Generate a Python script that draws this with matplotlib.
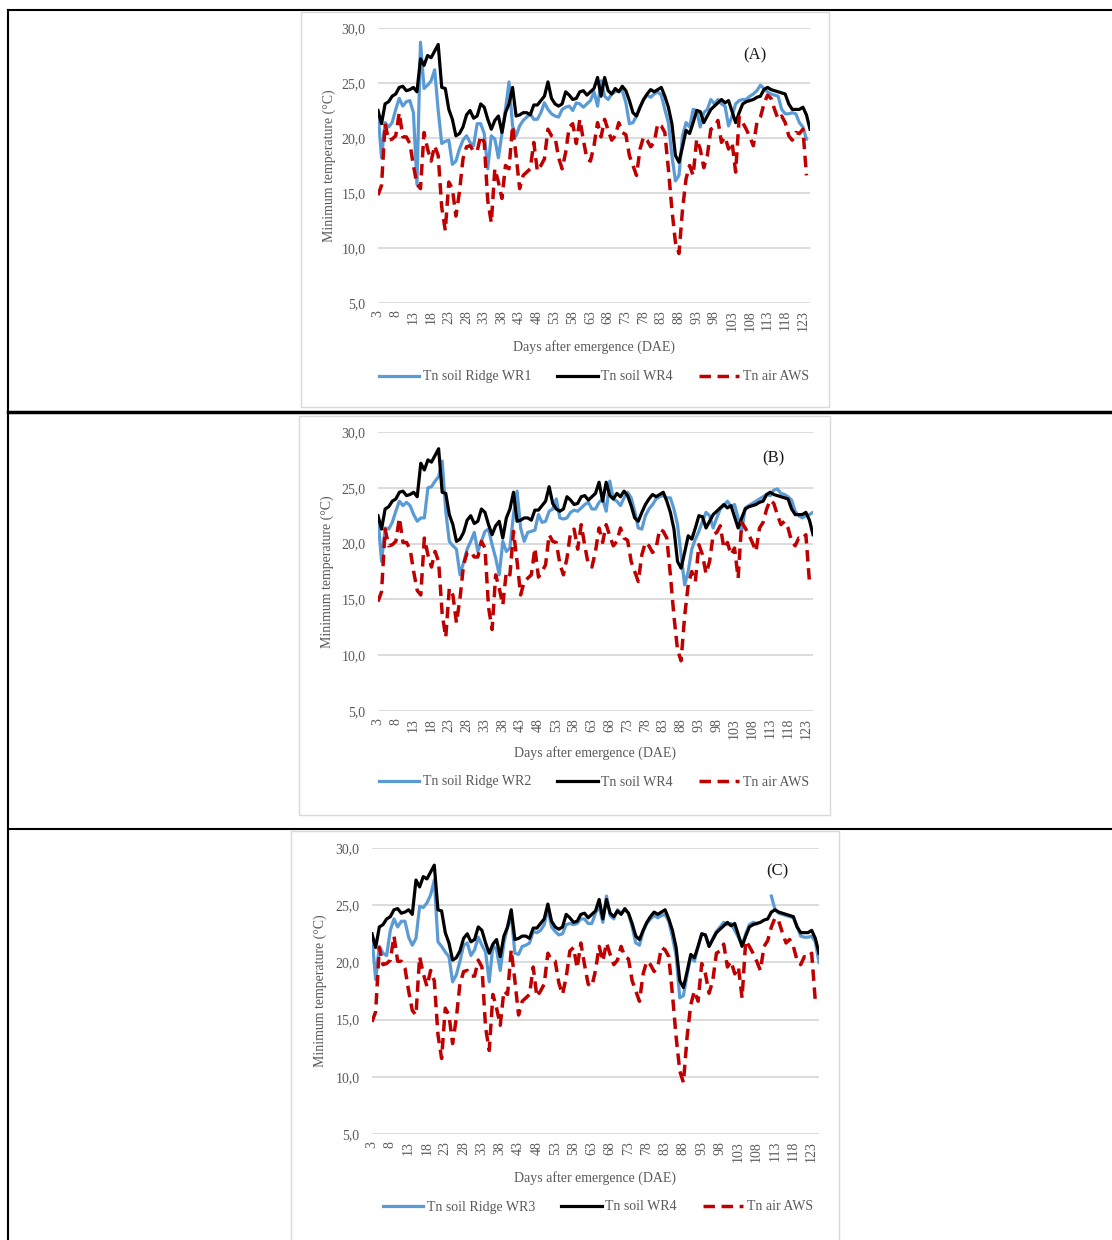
import numpy as np
import matplotlib.pyplot as plt
from matplotlib.lines import Line2D
from matplotlib.patches import Rectangle

# Days after emergence (3 .. 125)
days = np.arange(3, 126)
tick_days = np.arange(3, 124, 5)
y_ticks = [5, 10, 15, 20, 25, 30]
y_tick_labels = ['5,0', '10,0', '15,0', '20,0', '25,0', '30,0']

# Tn soil WR4 (same in every panel)
wr4 = [22.5, 21.3, 23.1, 23.3, 23.8, 24.0, 24.6, 24.7, 24.3, 24.4,
       24.6, 24.2, 27.2, 26.6, 27.5, 27.3, 27.9, 28.5, 24.6, 24.5,
       22.6, 21.7, 20.2, 20.4, 21.0, 22.1, 22.5, 21.8, 22.0, 23.1,
       22.8, 21.7, 20.8, 21.6, 22.0, 20.5, 22.3, 23.1, 24.6, 22.0,
       22.1, 22.3, 22.3, 22.1, 23.0, 23.0, 23.4, 23.8, 25.1, 23.6,
       23.1, 22.9, 23.1, 24.2, 23.9, 23.5, 23.6, 24.2, 24.3, 23.9,
       24.2, 24.5, 25.5, 23.8, 25.5, 24.3, 24.0, 24.5, 24.2, 24.7,
       24.3, 23.4, 22.3, 22.0, 22.8, 23.5, 24.0, 24.4, 24.2, 24.4,
       24.6, 23.8, 22.8, 21.3, 18.4, 17.8, 19.2, 20.7, 20.4, 21.4,
       22.5, 22.4, 21.4, 22.0, 22.6, 22.9, 23.2, 23.5, 23.2, 23.4,
       22.4, 21.4, 22.3, 23.1, 23.3, 23.4, 23.5, 23.7, 23.8, 24.4,
       24.6, 24.4, 24.3, 24.2, 24.1, 24.0, 23.1, 22.6, 22.6, 22.6,
       22.8, 22.1, 20.8]

# Tn air AWS (same in every panel)
aws = [14.8, 15.7, 21.3, 19.8, 19.9, 20.2, 22.3, 20.1, 20.1, 19.5,
       17.5, 15.8, 15.4, 20.5, 19.0, 17.9, 19.3, 18.4, 13.7, 11.6,
       16.0, 15.4, 12.9, 15.1, 18.1, 19.2, 19.3, 18.8, 18.8, 20.2,
       19.6, 14.3, 12.3, 17.2, 16.0, 14.5, 17.5, 17.2, 21.1, 18.4,
       15.4, 16.6, 16.9, 17.2, 19.6, 17.0, 17.5, 18.1, 20.8, 20.2,
       20.1, 18.2, 17.2, 18.7, 21.0, 21.3, 19.5, 21.7, 19.8, 18.1,
       17.9, 19.3, 21.4, 20.1, 21.7, 20.7, 19.8, 20.2, 21.4, 20.5,
       20.3, 18.4, 17.5, 16.6, 19.0, 20.1, 19.8, 19.2, 19.6, 21.3,
       21.1, 20.5, 17.2, 13.5, 10.5, 9.5, 13.5, 16.3, 17.5, 16.6,
       19.9, 19.0, 17.3, 18.4, 20.8, 21.0, 21.6, 19.6, 20.1, 19.0,
       19.6, 16.9, 21.9, 21.4, 20.8, 20.1, 19.3, 21.4, 21.9, 23.1,
       23.9, 23.6, 22.6, 21.7, 22.0, 21.4, 20.2, 19.8, 20.5, 20.4,
       20.8, 16.6, np.nan]

# Tn soil Ridge WR1 / WR2 / WR3
wr1 = [22.3, 18.2, 21.4, 21.0, 21.4, 22.6, 23.6, 22.9, 23.3, 23.4,
       22.3, 15.8, 28.7, 24.5, 24.8, 25.2, 26.2, 22.5, 19.5, 19.7,
       19.8, 17.6, 17.9, 19.0, 19.8, 20.2, 19.6, 19.3, 21.3, 21.3,
       20.4, 17.2, 20.2, 19.9, 18.2, 20.4, 22.6, 25.1, 21.1, 20.2,
       21.1, 21.6, 21.9, 22.2, 21.7, 21.7, 22.3, 23.2, 22.6, 22.2,
       22.0, 21.9, 22.6, 22.8, 22.9, 22.5, 23.2, 23.1, 22.8, 23.1,
       23.4, 24.2, 22.9, 25.2, 23.8, 23.5, 24.0, 24.2, 24.3, 24.3,
       23.2, 21.3, 21.4, 22.0, 22.8, 23.5, 23.9, 23.7, 24.0, 24.2,
       23.9, 22.6, 21.4, 18.4, 16.1, 16.6, 20.2, 21.4, 21.0, 22.6,
       22.5, 21.0, 22.3, 22.6, 23.5, 23.1, 23.5, 23.1, 22.9, 21.1,
       22.0, 23.1, 23.4, 23.5, 23.5, 23.8, 24.0, 24.3, 24.8, 24.5,
       24.2, 24.0, 23.9, 23.8, 22.6, 22.2, 22.2, 22.3, 22.2, 21.4,
       21.0, 19.9, np.nan]

wr2 = [22.3, 18.4, 21.4, 21.3, 21.9, 22.9, 23.8, 23.4, 23.7, 23.4,
       22.6, 22.0, 22.3, 22.3, 25.0, 25.1, 25.6, 26.0, 27.4, 22.9,
       20.2, 19.8, 19.5, 17.2, 18.3, 19.5, 20.2, 21.0, 19.3, 20.2,
       21.1, 21.3, 19.9, 18.7, 17.2, 20.2, 19.3, 19.6, 22.6, 24.7,
       21.4, 20.2, 21.0, 21.1, 21.2, 22.6, 21.9, 22.0, 22.9, 23.1,
       24.0, 22.3, 22.2, 22.3, 22.8, 23.0, 22.9, 23.2, 23.5, 23.7,
       23.1, 23.1, 23.7, 24.0, 22.9, 25.6, 24.0, 23.8, 23.4, 24.1,
       24.6, 24.1, 22.9, 21.4, 21.3, 22.5, 23.1, 23.5, 24.0, 24.2,
       24.3, 24.1, 24.1, 23.1, 21.7, 19.0, 16.3, 17.5, 19.5, 20.4,
       21.1, 22.0, 22.8, 22.5, 21.4, 22.3, 23.1, 23.4, 23.8, 23.3,
       23.5, 22.3, 21.1, 23.2, 23.4, 23.6, 23.8, 24.0, 24.2, 24.4,
       24.3, 24.8, 24.9, 24.5, 24.4, 24.2, 23.9, 22.9, 22.5, 22.3,
       22.5, 22.6, 22.8]

wr3 = [22.2, 18.5, 21.4, 20.8, 20.6, 22.8, 23.8, 23.1, 23.6, 23.6,
       22.2, 21.5, 22.1, 24.9, 24.8, 25.2, 25.9, 27.2, 21.8, 21.4,
       20.9, 20.5, 18.3, 18.9, 20.1, 21.5, 21.7, 20.6, 21.1, 22.2,
       21.5, 20.9, 18.3, 21.5, 21.1, 19.3, 21.7, 23.1, 24.1, 20.8,
       20.7, 21.4, 21.5, 21.7, 22.7, 22.6, 22.8, 23.3, 24.7, 23.1,
       22.7, 22.4, 22.5, 23.3, 23.4, 23.3, 23.4, 23.8, 23.8, 23.4,
       23.4, 24.3, 24.9, 23.5, 25.8, 24.1, 23.8, 24.6, 24.3, 24.6,
       24.3, 23.1, 21.7, 21.5, 22.7, 23.4, 23.8, 24.1, 23.9, 24.1,
       24.2, 23.6, 22.2, 20.6, 16.9, 17.1, 18.9, 20.5, 20.1, 21.4,
       22.5, 22.4, 21.4, 22.1, 22.7, 23.1, 23.5, 23.3, 23.4, 22.8,
       22.2, 21.5, 22.5, 23.3, 23.5, 23.4, np.nan, np.nan, np.nan, 25.8,
       24.6, 24.3, 24.2, 24.1, 24.0, 23.9, 23.2, 22.3, 22.2, 22.2,
       22.3, 21.8, 20.0]

blue_series = [wr1, wr2, wr3]
blue_labels = ['Tn soil Ridge WR1', 'Tn soil Ridge WR2', 'Tn soil Ridge WR3']
tags = ['(A)', '(B)', '(C)']

# layout in pixels: plot area (l, t, r, b), chart frame, ylabel x, xlabel y, legend y, tag xy
panels = [
    dict(plot=(378, 28, 810, 303), frame=(301, 12, 829, 407), ylab=329, xlab=347, leg=(594, 377), tag=(755, 55)),
    dict(plot=(378, 432, 813, 711), frame=(299, 416, 830, 815), ylab=327, xlab=753, leg=(594, 782), tag=(773, 458)),
    dict(plot=(372, 848, 819, 1134), frame=(291, 831, 839, 1245), ylab=320, xlab=1178, leg=(598, 1207), tag=(777, 871)),
]

W, H = 1112, 1240
plt.rcParams['font.family'] = ['Liberation Serif', 'DejaVu Serif']
txt = '#595959'

fig = plt.figure(figsize=(W / 100, H / 100), dpi=100)
fig.patch.set_facecolor('white')


def fx(x):
    return x / W


def fy(y):
    return 1 - y / H


for p, blue, blab, tag in zip(panels, blue_series, blue_labels, tags):
    fl, ft, fr, fb = p['frame']
    fig.add_artist(Rectangle((fx(fl), fy(fb)), fx(fr - fl), (fb - ft) / H,
                             transform=fig.transFigure, fill=False,
                             edgecolor='#d9d9d9', lw=1.0))
    l, t, r, b = p['plot']
    ax = fig.add_axes([fx(l), fy(b), fx(r - l), (b - t) / H])
    h1, = ax.plot(days, blue, color='#5B9BD5', lw=2.3, label=blab)
    h2, = ax.plot(days, wr4, color='black', lw=2.3, label='Tn soil WR4')
    h3, = ax.plot(days, aws, color='#C00000', lw=2.5, ls=(0, (3.3, 1.9)), label='Tn air AWS')

    ax.set_xlim(3, 125)
    ax.set_ylim(5, 30)
    ax.set_yticks(y_ticks)
    ax.set_yticklabels(y_tick_labels)
    ax.set_xticks(tick_days)
    ax.set_xticklabels([str(d) for d in tick_days], rotation=90)
    ax.tick_params(length=0, labelsize=10, labelcolor=txt)
    ax.tick_params(axis='y', pad=9)
    ax.tick_params(axis='x', pad=5)
    ax.grid(axis='y', color='#d9d9d9', lw=1.3)
    ax.set_axisbelow(True)
    for s in ax.spines.values():
        s.set_visible(False)

    ax.set_ylabel('Minimum temperature (°C)', fontsize=10, color=txt)
    ax.yaxis.set_label_coords((p['ylab'] - l) / (r - l), 0.5)
    ax.yaxis.label.set_va('center')
    ax.set_xlabel('Days after emergence (DAE)', fontsize=10, color=txt)
    ax.xaxis.set_label_coords(0.5, (b - p['xlab']) / (b - t))
    ax.xaxis.label.set_va('center')

    fig.text(fx(p['tag'][0]), fy(p['tag'][1]), tag, fontsize=12,
             color='#1a1a1a', ha='center', va='center')

    fig.legend([h1, h2, h3], [blab, 'Tn soil WR4', 'Tn air AWS'],
               loc='center', bbox_to_anchor=(fx(p['leg'][0]), fy(p['leg'][1])),
               ncol=3, frameon=False, fontsize=10, labelcolor=txt,
               handlelength=2.9, handletextpad=0.25, columnspacing=1.9)

# table borders around the three panels
for x0, y0, x1, y1, w in [(8, 10, 1112, 10, 1.5), (8, 10, 8, 1240, 1.5),
                          (8, 412, 1112, 412, 2.5), (8, 829, 1112, 829, 1.5)]:
    fig.add_artist(Line2D([fx(x0), fx(x1)], [fy(y0), fy(y1)],
                          transform=fig.transFigure, color='black', lw=w))

plt.savefig('out.png', dpi=100)
